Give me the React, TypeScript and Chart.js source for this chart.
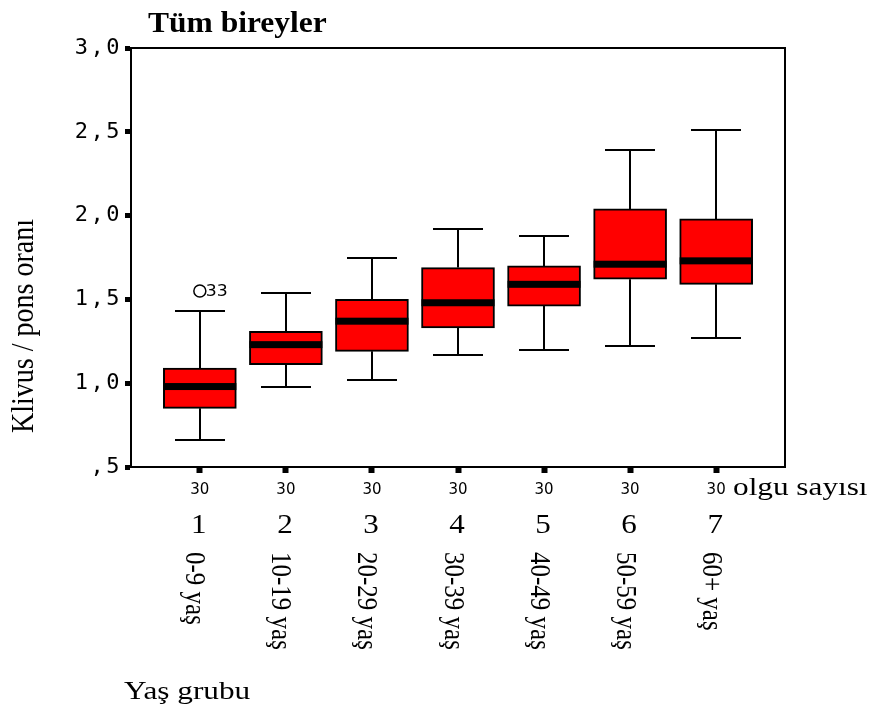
import React, { useEffect, useRef } from "react";
import { Chart, registerables } from "chart.js";

Chart.register(...registerables);

// Age groups (x positions 1..7) and their labels
const groupNumbers = ["1", "2", "3", "4", "5", "6", "7"];
const groupLabels = ["0-9 yaş", "10-19 yaş", "20-29 yaş", "30-39 yaş", "40-49 yaş", "50-59 yaş", "60+ yaş"];
const groupCounts = [30, 30, 30, 30, 30, 30, 30];

// Five-number summaries of the clivus / pons ratio per group
const whiskerLow = [0.66, 0.98, 1.02, 1.17, 1.2, 1.22, 1.27];
const quartile1 = [0.85, 1.11, 1.19, 1.33, 1.46, 1.62, 1.59];
const medians = [0.98, 1.23, 1.37, 1.48, 1.59, 1.71, 1.73];
const quartile3 = [1.09, 1.31, 1.5, 1.69, 1.7, 2.04, 1.98];
const whiskerHigh = [1.43, 1.54, 1.75, 1.92, 1.88, 2.39, 2.51];

// Outlying cases
const outlierGroups = [1];
const outlierValues = [1.55];
const outlierCases = ["33"];

// Y axis
const yMin = 0.5;
const yMax = 3.0;
const yStep = 0.5;

const BOX_WIDTH = 73;
const CAP_WIDTH = 50;
const MEDIAN_THICKNESS = 7;
const SERIF = '"Liberation Serif", "Times New Roman", serif';
const SANS = '"DejaVu Sans", sans-serif';

function drawText(
  ctx: CanvasRenderingContext2D,
  text: string,
  x: number,
  y: number,
  font: string,
  opts: { sx?: number; sy?: number; rot?: number; align?: CanvasTextAlign; baseline?: CanvasTextBaseline } = {}
) {
  ctx.save();
  ctx.translate(x, y);
  if (opts.rot) ctx.rotate(opts.rot);
  ctx.scale(opts.sx ?? 1, opts.sy ?? 1);
  ctx.font = font;
  ctx.fillStyle = "#000";
  ctx.textAlign = opts.align ?? "left";
  ctx.textBaseline = opts.baseline ?? "alphabetic";
  ctx.fillText(text, 0, 0);
  ctx.restore();
}

const boxplotPlugin = {
  id: "boxplotDecor",
  beforeDraw(chart: any) {
    // wide spacing for the numeric axis labels
    (chart.ctx as any).letterSpacing = "2.5px";
  },
  beforeDatasetsDraw(chart: any) {
    const ctx: CanvasRenderingContext2D = chart.ctx;
    const xs = chart.scales.x;
    const ys = chart.scales.y;
    ctx.save();
    ctx.strokeStyle = "#000";
    ctx.lineWidth = 2;
    groupNumbers.forEach((_, i) => {
      const cx = Math.round(xs.getPixelForValue(i + 1));
      const yHi = Math.round(ys.getPixelForValue(whiskerHigh[i]));
      const yLo = Math.round(ys.getPixelForValue(whiskerLow[i]));
      const yQ3 = ys.getPixelForValue(quartile3[i]);
      const yQ1 = ys.getPixelForValue(quartile1[i]);
      ctx.beginPath();
      ctx.moveTo(cx, yQ3);
      ctx.lineTo(cx, yHi);
      ctx.moveTo(cx - CAP_WIDTH / 2, yHi);
      ctx.lineTo(cx + CAP_WIDTH / 2, yHi);
      ctx.moveTo(cx, yQ1);
      ctx.lineTo(cx, yLo);
      ctx.moveTo(cx - CAP_WIDTH / 2, yLo);
      ctx.lineTo(cx + CAP_WIDTH / 2, yLo);
      ctx.stroke();
    });
    ctx.restore();
  },
  afterDatasetsDraw(chart: any) {
    const ctx: CanvasRenderingContext2D = chart.ctx;
    const xs = chart.scales.x;
    const ys = chart.scales.y;
    ctx.save();
    ctx.fillStyle = "#000";
    groupNumbers.forEach((_, i) => {
      const cx = xs.getPixelForValue(i + 1);
      const ym = ys.getPixelForValue(medians[i]);
      ctx.fillRect(cx - BOX_WIDTH / 2, ym - MEDIAN_THICKNESS / 2, BOX_WIDTH, MEDIAN_THICKNESS);
    });
    ctx.restore();
  },
  afterDraw(chart: any) {
    const ctx: CanvasRenderingContext2D = chart.ctx;
    (ctx as any).letterSpacing = "0px";
    const xs = chart.scales.x;
    const ys = chart.scales.y;
    const area = chart.chartArea;

    // top and right edges of the frame
    ctx.save();
    ctx.strokeStyle = "#000";
    ctx.lineWidth = 2;
    ctx.beginPath();
    ctx.moveTo(area.left, area.top);
    ctx.lineTo(area.right, area.top);
    ctx.lineTo(area.right, area.bottom);
    ctx.stroke();
    ctx.restore();

    // outlier case numbers
    outlierGroups.forEach((g, i) => {
      const px = xs.getPixelForValue(g);
      const py = ys.getPixelForValue(outlierValues[i]);
      drawText(ctx, outlierCases[i], px + 6, py + 5, `15px ${SANS}`, { sx: 1.15 });
    });

    // category annotations under the axis
    groupNumbers.forEach((num, i) => {
      const px = xs.getPixelForValue(i + 1);
      drawText(ctx, String(groupCounts[i]), px, 494, `15px ${SANS}`, { align: "center" });
      drawText(ctx, num, px - 1, 533, `27px ${SERIF}`, { sx: 1.15, align: "center" });
      ctx.save();
      ctx.translate(px, 552);
      ctx.rotate(Math.PI / 2);
      ctx.scale(1, 1.2);
      ctx.font = `25px ${SERIF}`;
      ctx.fillStyle = "#000";
      ctx.textAlign = "left";
      ctx.textBaseline = "alphabetic";
      ctx.fillText(groupLabels[i], 0, 11.25);
      ctx.restore();
    });

    drawText(ctx, "olgu sayısı", 733, 495, `25px ${SERIF}`, { sx: 1.25 });
    drawText(ctx, "Yaş grubu", 124, 699, `25px ${SERIF}`, { sx: 1.25 });
    drawText(ctx, "Tüm bireyler", 148, 32, `bold 30px ${SERIF}`, { sx: 1.05 });
    drawText(ctx, "Klivus / pons oranı", 33, 326, `28px ${SERIF}`, {
      rot: -Math.PI / 2,
      sy: 1.1,
      align: "center",
    });
  },
};

function formatTick(v: number) {
  const s = v.toFixed(1).replace(".", ",");
  return s.startsWith("0") ? s.slice(1) : s;
}

export default function App() {
  const canvasRef = useRef<HTMLCanvasElement>(null);

  useEffect(() => {
    const canvas = canvasRef.current;
    if (!canvas) return;
    const chart = new Chart(canvas, {
      type: "bar",
      data: {
        datasets: [
          {
            type: "bar",
            data: groupNumbers.map((_, i) => ({ x: i + 1, y: [quartile1[i], quartile3[i]] })) as any,
            backgroundColor: "#ff0000",
            borderColor: "#000",
            borderWidth: 2,
            borderSkipped: false,
            barThickness: BOX_WIDTH,
          },
          {
            type: "scatter",
            data: outlierGroups.map((g, i) => ({ x: g, y: outlierValues[i] })),
            pointStyle: "circle",
            pointRadius: 6,
            borderColor: "#000",
            borderWidth: 1.5,
            backgroundColor: "rgba(0,0,0,0)",
          } as any,
        ],
      },
      options: {
        animation: false,
        responsive: false,
        events: [],
        layout: { padding: { left: 0, right: 90, top: 48, bottom: 0 } },
        plugins: {
          legend: { display: false },
          title: { display: false },
          tooltip: { enabled: false },
        },
        scales: {
          x: {
            type: "linear",
            min: 0.2,
            max: 7.8,
            offset: false,
            afterBuildTicks: (s: any) => {
              s.ticks = groupNumbers.map((_, i) => ({ value: i + 1 }));
            },
            afterFit: (s: any) => {
              s.height = 253;
            },
            ticks: { display: false, autoSkip: false },
            grid: {
              display: true,
              offset: false,
              drawOnChartArea: false,
              drawTicks: true,
              tickLength: 6,
              tickWidth: 6,
              tickColor: "#000",
            },
            border: { display: true, color: "#000", width: 2 },
          },
          y: {
            type: "linear",
            min: yMin,
            max: yMax,
            afterFit: (s: any) => {
              s.width = 131;
            },
            ticks: {
              stepSize: yStep,
              color: "#000",
              padding: 3,
              font: { family: '"DejaVu Sans Mono", monospace', size: 22 },
              callback: (v: any) => formatTick(Number(v)),
            },
            grid: {
              display: true,
              drawOnChartArea: false,
              drawTicks: true,
              tickLength: 6,
              tickWidth: 5,
              tickColor: "#000",
            },
            border: { display: true, color: "#000", width: 2 },
          },
        },
      } as any,
      plugins: [boxplotPlugin],
    });
    return () => chart.destroy();
  }, []);

  return (
    <div style={{ position: "fixed", left: 0, top: 0, width: 875, height: 720, background: "#fff" }}>
      <canvas ref={canvasRef} width={875} height={720} style={{ width: 875, height: 720, display: "block" }} />
    </div>
  );
}
